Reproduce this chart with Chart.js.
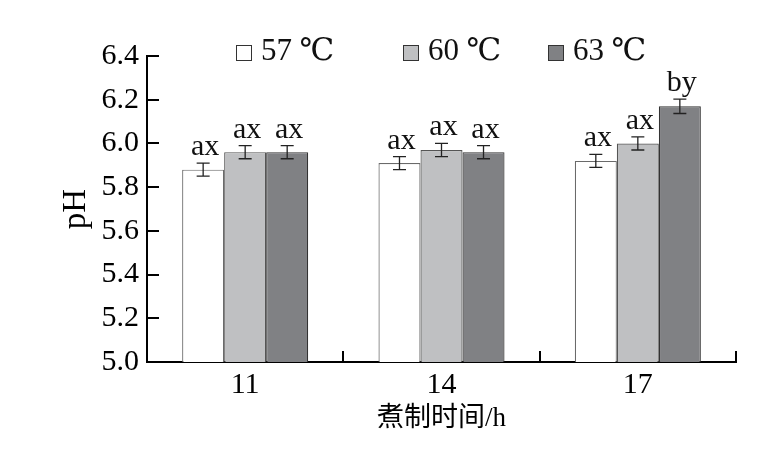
<!DOCTYPE html>
<html>
<head>
<meta charset="utf-8">
<script src="https://cdn.jsdelivr.net/npm/chart.js@4.4.1/dist/chart.umd.min.js"></script>
<style>
	html, body { margin: 0; padding: 0; background: #ffffff; }
	#wrap { width: 775px; height: 449px; }
</style>
</head>
<body>
<div id="wrap"><canvas id="graficoPH"></canvas></div>
<script>
const categorias = ['11', '14', '17'];
const series = ['57 ℃', '60 ℃', '63 ℃'];
const ph57 = [5.88, 5.91, 5.92];
const ph60 = [5.96, 5.97, 6.00];
const ph63 = [5.96, 5.96, 6.17];
const erro57 = [0.03, 0.03, 0.03];
const erro60 = [0.03, 0.03, 0.03];
const erro63 = [0.03, 0.03, 0.033];
const letras57 = ['ax', 'ax', 'ax'];
const letras60 = ['ax', 'ax', 'ax'];
const letras63 = ['ax', 'ax', 'by'];
const yTicks = [5.0, 5.2, 5.4, 5.6, 5.8, 6.0, 6.2, 6.4];

const fonte = "'Liberation Serif', 'DejaVu Serif', 'Noto Sans CJK SC', serif";
const erros = [erro57, erro60, erro63];
const letras = [letras57, letras60, letras63];

document.addEventListener('DOMContentLoaded', function () {
	const ctx = document.getElementById('graficoPH').getContext('2d');

	// barras de erro + letras de significancia
	const errorBars = {
		id: 'errorBars',
		afterDatasetsDraw(chart) {
			const c = chart.ctx;
			const y = chart.scales.y;
			chart.data.datasets.forEach(function (ds, i) {
				const meta = chart.getDatasetMeta(i);
				meta.data.forEach(function (bar, j) {
					const v = ds.data[j];
					const e = erros[i][j];
					const top = y.getPixelForValue(v + e);
					const bot = y.getPixelForValue(v - e);
					c.save();
					c.strokeStyle = '#222222';
					c.lineWidth = 1.3;
					c.beginPath();
					c.moveTo(bar.x, top); c.lineTo(bar.x, bot);
					c.moveTo(bar.x - 6.5, top); c.lineTo(bar.x + 6.5, top);
					c.moveTo(bar.x - 6.5, bot); c.lineTo(bar.x + 6.5, bot);
					c.stroke();
					c.fillStyle = '#111111';
					c.font = '30px ' + fonte;
					c.textAlign = 'center';
					c.textBaseline = 'alphabetic';
					c.fillText(letras[i][j], bar.x + 2, top - 8);
					c.restore();
				});
			});
		},
	};

	// ticks para dentro
	const innerTicks = {
		id: 'innerTicks',
		afterDraw(chart) {
			const c = chart.ctx;
			const a = chart.chartArea;
			const x = chart.scales.x;
			const y = chart.scales.y;
			c.save();
			c.strokeStyle = '#000000';
			c.lineWidth = 2;
			c.beginPath();
			y.ticks.forEach(function (t) {
				const py = Math.round(y.getPixelForValue(t.value));
				c.moveTo(a.left, py); c.lineTo(a.left + 12, py);
			});
			for (let i = 0; i < categorias.length; i++) {
				const px = i < categorias.length - 1
					? (x.getPixelForValue(i) + x.getPixelForValue(i + 1)) / 2
					: a.right;
				c.moveTo(Math.round(px), a.bottom); c.lineTo(Math.round(px), a.bottom - 11);
			}
			c.stroke();
			c.restore();
		},
	};

	// legenda desenhada a mao
	const legenda = {
		id: 'legenda',
		afterDraw(chart) {
			const c = chart.ctx;
			const pos = [236, 403, 548];
			c.save();
			chart.data.datasets.forEach(function (ds, i) {
				c.fillStyle = ds.backgroundColor;
				c.strokeStyle = '#333333';
				c.lineWidth = 1;
				c.fillRect(pos[i] + 0.5, 45.5, 15, 15);
				c.strokeRect(pos[i] + 0.5, 45.5, 15, 15);
				c.fillStyle = '#111111';
				c.font = '31px ' + fonte;
				c.textAlign = 'left';
				c.textBaseline = 'middle';
				c.fillText(ds.label, pos[i] + 25, 52);
			});
			c.restore();
		},
	};

	const data = {
		labels: categorias,
		datasets: [
			{ label: series[0], data: ph57, backgroundColor: '#ffffff', borderColor: '#6a6a6a', borderWidth: 1.2 },
			{ label: series[1], data: ph60, backgroundColor: '#bfc0c2', borderColor: '#555555', borderWidth: 1.2 },
			{ label: series[2], data: ph63, backgroundColor: '#808184', borderColor: '#333333', borderWidth: 1.2 },
		],
	};

	const config = {
		type: 'bar',
		data: data,
		options: {
			responsive: true,
			maintainAspectRatio: false,
			animation: false,
			layout: { padding: { left: 57, right: 39, top: 56, bottom: 0 } },
			datasets: { bar: { categoryPercentage: 0.642, barPercentage: 1.0 } },
			plugins: {
				legend: { display: false },
				tooltip: { enabled: false },
			},
			scales: {
				x: {
					grid: { display: false, drawTicks: false },
					border: { display: true, color: '#000000', width: 2 },
					ticks: { color: '#000000', font: { family: fonte, size: 30 }, padding: 5, maxRotation: 0 },
					title: { display: true, text: '煮制时间/h', color: '#000000', font: { family: fonte, size: 27 }, padding: { top: 0, bottom: 14 } },
					afterFit(scale) { scale.height = 87; },
				},
				y: {
					min: 5.0,
					max: 6.4,
					grid: { display: false, drawTicks: false },
					border: { display: true, color: '#000000', width: 2 },
					afterBuildTicks(scale) { scale.ticks = yTicks.map(function (v) { return { value: v }; }); },
					ticks: {
						color: '#000000',
						font: { family: fonte, size: 30 },
						padding: 8,
						callback: function (v) { return Number(v).toFixed(1); },
					},
					title: { display: true, text: 'pH', color: '#000000', font: { family: fonte, size: 33 }, padding: 0 },
					afterFit(scale) { scale.width = 90; },
				},
			},
		},
		plugins: [errorBars, innerTicks, legenda],
	};

	new Chart(ctx, config);
});
</script>
</body>
</html>
